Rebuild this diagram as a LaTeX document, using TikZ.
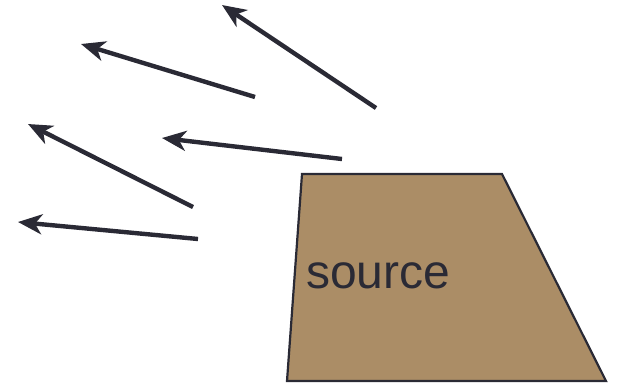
\documentclass[tikz,border=0pt]{standalone}
\usepackage{fontspec}
\setmainfont{Liberation Sans}
\usetikzlibrary{arrows.meta}
\definecolor{ink}{HTML}{2A2A35}
\definecolor{sand}{HTML}{AB8D66}
\begin{document}
\begin{tikzpicture}[x=1pt,y=-1pt,
  ray/.style={draw=ink,line width=4.4pt,-{Stealth[length=24pt,width=20pt,inset=7pt]}},
  srcshape/.style={draw=ink,line width=2.2pt,fill=sand,line join=miter}]
\useasboundingbox (0,0) rectangle (620,384);
% source shape
\coordinate (tl) at (302,174);
\coordinate (tr) at (502,174);
\coordinate (br) at (606,381);
\coordinate (bl) at (287,381);
\path[srcshape] (tl) -- (tr) -- (br) -- (bl) -- cycle;
\node[anchor=base west,inner sep=0pt,text=ink,font=\fontsize{48}{50}\selectfont] (src) at (306,288) {source};
% rays
\coordinate (s1) at (376,108); \coordinate (e1) at (222,5);
\coordinate (s2) at (255,97);  \coordinate (e2) at (81,44);
\coordinate (s3) at (342,159); \coordinate (e3) at (162,138);
\coordinate (s4) at (193,207); \coordinate (e4) at (28,124);
\coordinate (s5) at (198,239); \coordinate (e5) at (18,222);
\draw[ray] (s1) -- (e1);
\draw[ray] (s2) -- (e2);
\draw[ray] (s3) -- (e3);
\draw[ray] (s4) -- (e4);
\draw[ray] (s5) -- (e5);
\end{tikzpicture}
\end{document}
